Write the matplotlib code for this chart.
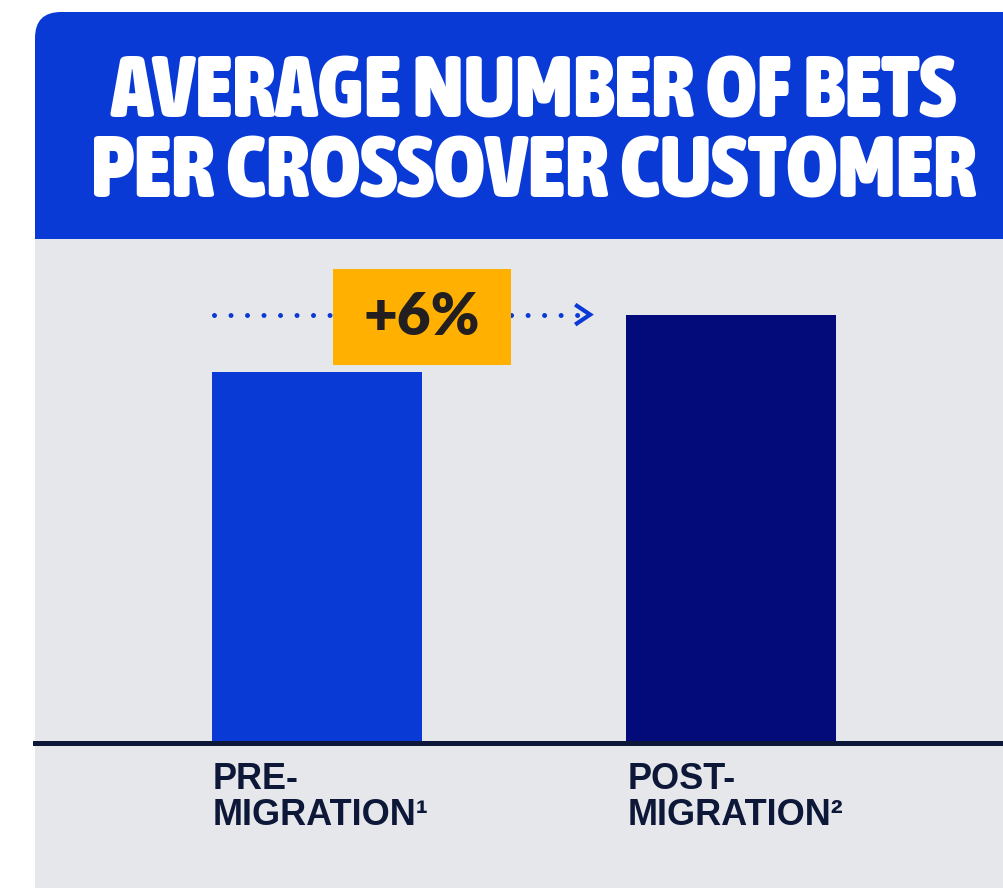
import matplotlib
matplotlib.use('Agg')
import matplotlib.pyplot as plt
from matplotlib.patches import FancyBboxPatch, Rectangle
from matplotlib import font_manager as fm

# ---- data ----
categories = ['PRE-\nMIGRATION\u00b9', 'POST-\nMIGRATION\u00b2']
values = [100, 106]
change_label = '+6%'
title_lines = ['AVERAGE NUMBER OF BETS', 'PER CROSSOVER CUSTOMER']

# ---- style ----
W, H, DPI = 1004, 888, 100
BLUE = '#0a3ad6'
NAVY = '#020b79'
GRAY = '#e6e7eb'
DARK = '#0d1838'
YELLOW = '#ffb000'
TXT = '#231f20'

WMAP = {'thin': 100, 'extralight': 200, 'ultralight': 200, 'light': 300, 'normal': 400,
        'regular': 400, 'book': 400, 'medium': 500, 'semibold': 600, 'demibold': 600,
        'bold': 700, 'extrabold': 800, 'heavy': 800, 'black': 900}


def wnum(w):
    try:
        return int(w)
    except (TypeError, ValueError):
        return WMAP.get(str(w).lower(), 400)


cands = []
for f in fm.fontManager.ttflist:
    nm = f.name
    if 'Serif' in nm or 'Mono' in nm:
        continue
    cond = ('Condensed' in nm or 'Narrow' in nm or
            str(f.stretch) in ('condensed', 'semi-condensed', 'extra-condensed',
                               'ultra-condensed') or
            (isinstance(f.stretch, int) and f.stretch < 500) or
            'Condensed' in f.fname or 'Narrow' in f.fname)
    if cond and str(f.style) == 'normal':
        cands.append(f)
if cands:
    best = max(cands, key=lambda f: (wnum(f.weight), 'DejaVu' not in f.name))
    title_fp = fm.FontProperties(fname=best.fname)
else:
    title_fp = fm.FontProperties(family='DejaVu Sans', weight='bold', stretch='condensed')

fig = plt.figure(figsize=(W / DPI, H / DPI), dpi=DPI, facecolor='white')

# background / decoration layer in pixel coordinates
bg = fig.add_axes([0, 0, 1, 1], zorder=0)
bg.set_xlim(0, W)
bg.set_ylim(H, 0)
bg.axis('off')
bg.add_patch(FancyBboxPatch((35, 12), W + 100, H + 100,
                            boxstyle='round,pad=0,rounding_size=26',
                            fc=BLUE, ec='none'))
bg.add_patch(Rectangle((35, 239), W, H, fc=GRAY, ec='none'))

# title
renderer = fig.canvas.get_renderer()
targets = [(117, 847), (197, 886)]
for line, (yb, tw) in zip(title_lines, targets):
    t = bg.text(534, yb, line, ha='center', va='baseline', color='white',
                fontproperties=title_fp)
    t.set_fontsize(58)
    w = t.get_window_extent(renderer).width
    t.set_fontsize(min(58 * tw / w, 64))

# data axes
ax = fig.add_axes([35 / W, 1 - 742.5 / H, (W - 35) / W, (742.5 - 239) / H], zorder=1)
ax.patch.set_alpha(0)
for s in ax.spines.values():
    s.set_visible(False)
ax.set_xticks([])
ax.set_yticks([])
ymin = 60.9
ax.set_xlim(-0.681, 1.659)
ax.set_ylim(ymin, 113.97)

x = [0, 1]
bw = 0.507
ax.bar(x, values, width=bw, color=[BLUE, NAVY], zorder=2)
ax.axhline(ymin, color=DARK, lw=3.6, zorder=3, clip_on=False)

# dotted arrow
x0 = x[0] - bw / 2
x1 = x[1] - bw / 2 - 0.087
ax.plot([x0 + 0.005, x1 - 0.03], [values[1], values[1]], color=BLUE, lw=3.6,
        linestyle=(0, (0.001, 3.3)), dash_capstyle='round', zorder=3)
ax.plot([x1 - 0.036, x1, x1 - 0.036], [values[1] + 1.05, values[1], values[1] - 1.05],
        color=BLUE, lw=3.0, solid_joinstyle='miter', solid_capstyle='butt', zorder=3)

# change box
bxw, bxh = 0.432, 10.1
cx = x[0] + bw / 2
ax.add_patch(Rectangle((cx - bxw / 2, values[1] - bxh / 2 - 0.25), bxw, bxh,
                       fc=YELLOW, ec='none', zorder=4))
ax.text(cx, values[1] + 0.15, change_label, ha='center', va='center_baseline',
        fontsize=42, fontweight='heavy', family='Lato', color=TXT, zorder=5)

# category labels
for xi, lab in zip(x, categories):
    ax.annotate(lab, (xi - bw / 2, ymin), xytext=(1, -19), textcoords='offset pixels',
                ha='left', va='top', fontsize=26, fontweight='bold',
                family='Liberation Sans', color=DARK, linespacing=1.04,
                annotation_clip=False)

fig.savefig('out.png', dpi=DPI, facecolor='white')
